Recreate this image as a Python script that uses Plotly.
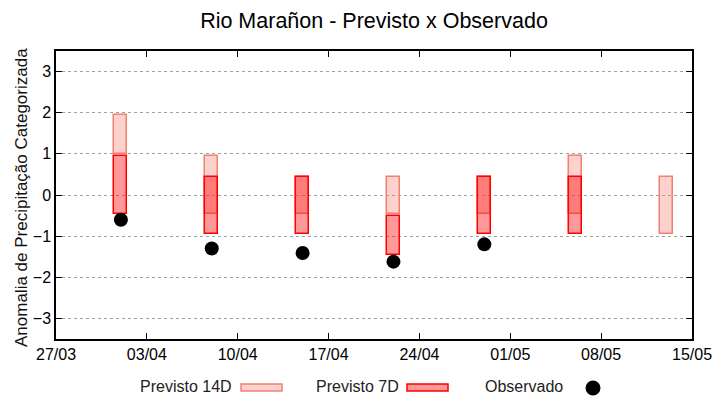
import plotly.graph_objects as go

# ---- data ----
dates = ["2023-04-01", "2023-04-08", "2023-04-15", "2023-04-22", "2023-04-29", "2023-05-06", "2023-05-13"]
p14_low = [1.0, -0.45, -0.45, -0.45, -0.45, -0.45, -0.95]
p14_high = [1.95, 0.95, 0.43, 0.43, 0.43, 0.95, 0.43]
p7_low = [-0.45, -0.95, -0.95, -1.45, -0.95, -0.95, None]
p7_high = [0.95, 0.43, 0.43, -0.52, 0.43, 0.43, None]
obs = [-0.6, -1.3, -1.41, -1.62, -1.2, None, None]

tick_dates = ["2023-03-27", "2023-04-03", "2023-04-10", "2023-04-17", "2023-04-24",
              "2023-05-01", "2023-05-08", "2023-05-15"]
tick_labels = ["27/03", "03/04", "10/04", "17/04", "24/04", "01/05", "08/05", "15/05"]
y_ticks = [-3, -2, -1, 0, 1, 2, 3]

DAY = 86400000

def span(lo, hi):
    return [None if (a is None or b is None) else b - a for a, b in zip(lo, hi)]

fig = go.Figure()
fig.add_trace(go.Bar(
    x=dates, y=span(p14_low, p14_high), base=p14_low, width=DAY,
    marker=dict(color="rgba(250,128,114,0.36)", line=dict(color="#f08070", width=1.5)),
    name="Previsto 14D", showlegend=False))
fig.add_trace(go.Bar(
    x=dates, y=span(p7_low, p7_high), base=p7_low, width=DAY,
    marker=dict(color="rgba(255,0,0,0.4)", line=dict(color="#ff0000", width=1.5)),
    name="Previsto 7D", showlegend=False))
fig.add_trace(go.Scatter(
    x=dates, y=obs, mode="markers",
    marker=dict(color="black", size=14, line=dict(width=0)),
    name="Observado", showlegend=False))

# ---- manual gnuplot-style legend ----
L, R, T, B = 56, 692, 51, 339
def px(x):
    return (x - L) / (R - L)
def py(y):
    return (B - y) / (B - T)

font_leg = dict(family="Liberation Sans", size=16, color="#222")
legend_items = [
    ("Previsto 14D", 234, 241, 282, "rgba(250,128,114,0.36)", "#f08070"),
    ("Previsto 7D", 401, 407, 448, "rgba(255,0,0,0.4)", "#ff0000"),
]
for text, tx, r0, r1, fc, lc in legend_items:
    fig.add_annotation(x=px(tx), y=py(386), xref="paper", yref="paper", text=text,
                       showarrow=False, xanchor="right", yanchor="middle", font=font_leg)
    fig.add_shape(type="rect", xref="paper", yref="paper",
                  x0=px(r0), x1=px(r1), y0=py(391), y1=py(384),
                  fillcolor=fc, line=dict(color=lc, width=1.5))
fig.add_annotation(x=px(565), y=py(386), xref="paper", yref="paper", text="Observado",
                   showarrow=False, xanchor="right", yanchor="middle", font=font_leg)
fig.add_shape(type="circle", xref="paper", yref="paper",
              xsizemode="pixel", ysizemode="pixel",
              xanchor=px(593), yanchor=py(388), x0=-7.5, x1=7.5, y0=-7.5, y1=7.5,
              fillcolor="black", line=dict(width=0))

# y-axis title placed like gnuplot's
fig.add_annotation(x=px(21), y=py(198), xref="paper", yref="paper",
                   text="Anomalia de Precipitação Categorizada", textangle=-90,
                   showarrow=False, xanchor="center", yanchor="middle",
                   font=dict(family="Liberation Sans", size=17, color="#111"))

fig.update_layout(
    width=720, height=400,
    margin=dict(l=L, r=720 - R, t=T, b=400 - B, autoexpand=False),
    paper_bgcolor="white", plot_bgcolor="white",
    barmode="overlay", bargap=0,
    title=dict(text="Rio Marañon - Previsto x Observado", x=(L + R) / 2 / 720, xanchor="center",
               y=1 - 20 / 400, yanchor="middle",
               font=dict(family="Liberation Sans", size=21.5, color="black")),
    font=dict(family="Liberation Sans", size=16, color="black"),
)
fig.update_xaxes(
    type="date", range=[tick_dates[0], tick_dates[-1]],
    tickvals=tick_dates, ticktext=tick_labels,
    showline=True, linecolor="black", linewidth=1.5, mirror="ticks",
    ticks="inside", ticklen=6, tickcolor="black", showgrid=False, zeroline=False,
    tickfont=dict(family="Liberation Sans", size=16, color="black"),
)
fig.update_yaxes(
    range=[-3.5, 3.5], tickvals=y_ticks,
    showline=True, linecolor="black", linewidth=1.5, mirror="ticks",
    ticks="inside", ticklen=6, tickcolor="black",
    showgrid=True, gridcolor="#a0a0a0", griddash="dot", gridwidth=1, zeroline=False,
    tickfont=dict(family="Liberation Sans", size=16, color="black"),
)

fig.write_html("out.html", config={"displayModeBar": False},
               post_script="document.body.style.margin='0';")
